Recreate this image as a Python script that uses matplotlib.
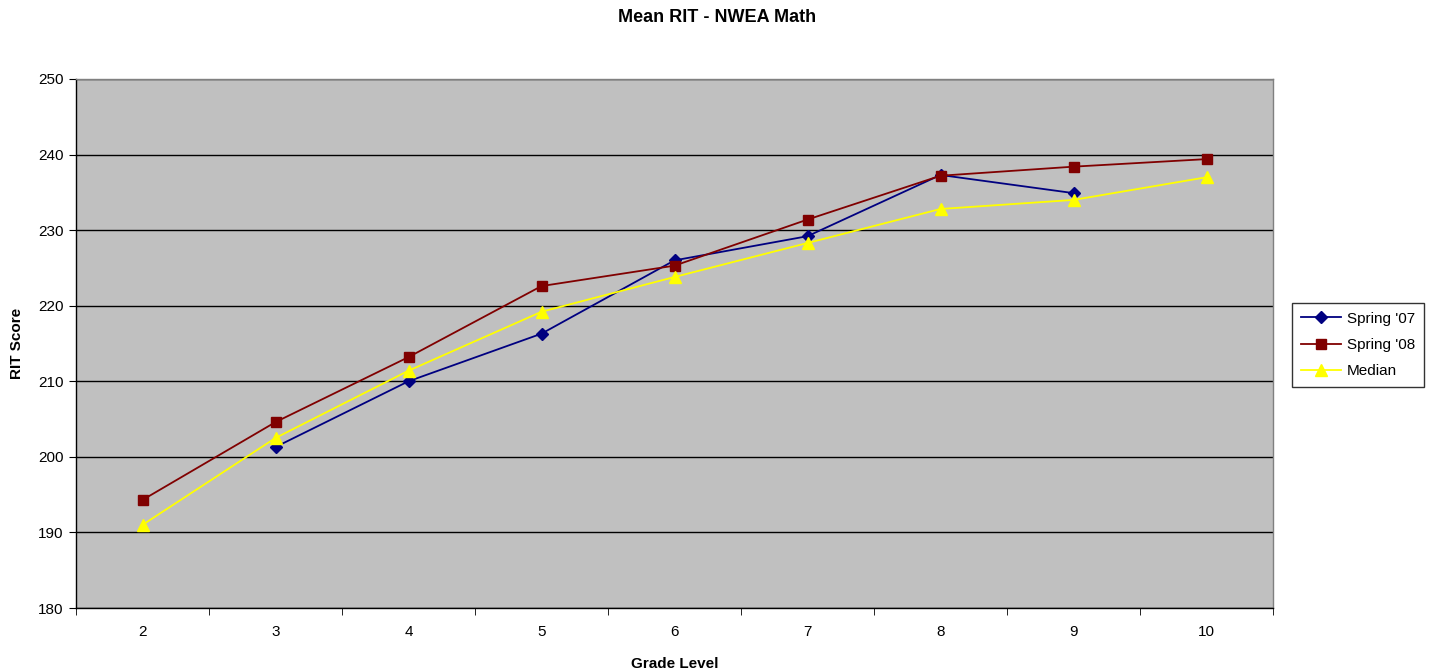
import matplotlib
matplotlib.use("Agg")
import matplotlib.pyplot as plt
from matplotlib.ticker import FixedLocator, NullFormatter

plt.rcParams['font.family'] = ['Liberation Sans', 'DejaVu Sans']

grades = [2, 3, 4, 5, 6, 7, 8, 9, 10]
grade_labels = ['2', '3', '4', '5', '6', '7', '8', '9', '10']
spring07_x = [3, 4, 5, 6, 7, 8, 9]
spring07 = [201.3, 210.0, 216.3, 226.0, 229.2, 237.3, 234.9]
spring08 = [194.3, 204.6, 213.2, 222.6, 225.3, 231.4, 237.2, 238.4, 239.4]
median = [191.0, 202.5, 211.4, 219.2, 223.8, 228.3, 232.8, 234.0, 237.0]
y_ticks = [180, 190, 200, 210, 220, 230, 240, 250]

fig = plt.figure(figsize=(14.34, 6.71), dpi=100)
ax = fig.add_axes([76/1434, 63/671, (1273-76)/1434, (608-79)/671])
ax.set_facecolor('#C0C0C0')

ax.plot(spring07_x, spring07, color='#000080', marker='D', markersize=6,
        linewidth=1.3, label="Spring '07", zorder=3)
ax.plot(grades, spring08, color='#800000', marker='s', markersize=7,
        linewidth=1.3, label="Spring '08", zorder=3)
ax.plot(grades, median, color='#FFFF00', marker='^', markersize=8,
        linewidth=1.3, label="Median", zorder=3)

ax.set_xlim(1.5, 10.5)
ax.set_ylim(180, 250)
ax.set_yticks(y_ticks)
ax.set_yticklabels([str(v) for v in y_ticks], fontsize=11)
ax.set_xticks(grades)
ax.set_xticklabels(grade_labels, fontsize=11)
ax.tick_params(axis='x', which='major', length=0, pad=12)
ax.xaxis.set_minor_locator(FixedLocator([g + 0.5 for g in [1] + grades]))
ax.xaxis.set_minor_formatter(NullFormatter())
ax.tick_params(axis='x', which='minor', length=5, direction='out', color='black')
ax.tick_params(axis='y', length=5, direction='out', color='black', pad=4)

ax.yaxis.grid(True, color='black', linewidth=1.0)
ax.set_axisbelow(True)
for side in ['top', 'right']:
    ax.spines[side].set_color('#808080')
    ax.spines[side].set_linewidth(1.0)
for side in ['left', 'bottom']:
    ax.spines[side].set_color('black')
    ax.spines[side].set_linewidth(1.0)

fig.text(0.5, 1 - 17/671, 'Mean RIT - NWEA Math', ha='center', va='center',
         fontsize=13, fontweight='bold')
ax.set_xlabel('Grade Level', fontsize=11, fontweight='bold', labelpad=13)
ax.set_ylabel('RIT Score', fontsize=11, fontweight='bold', labelpad=10)

leg = ax.legend(loc='center left', bbox_to_anchor=(1292/1434, 1 - 345/671),
                bbox_transform=fig.transFigure, frameon=True, fancybox=False,
                edgecolor='black', fontsize=11, borderpad=0.6,
                handlelength=2.6, handletextpad=0.4, labelspacing=0.8,
                borderaxespad=0)
leg.get_frame().set_linewidth(1.0)

fig.savefig('out.png', dpi=100, facecolor='white')
